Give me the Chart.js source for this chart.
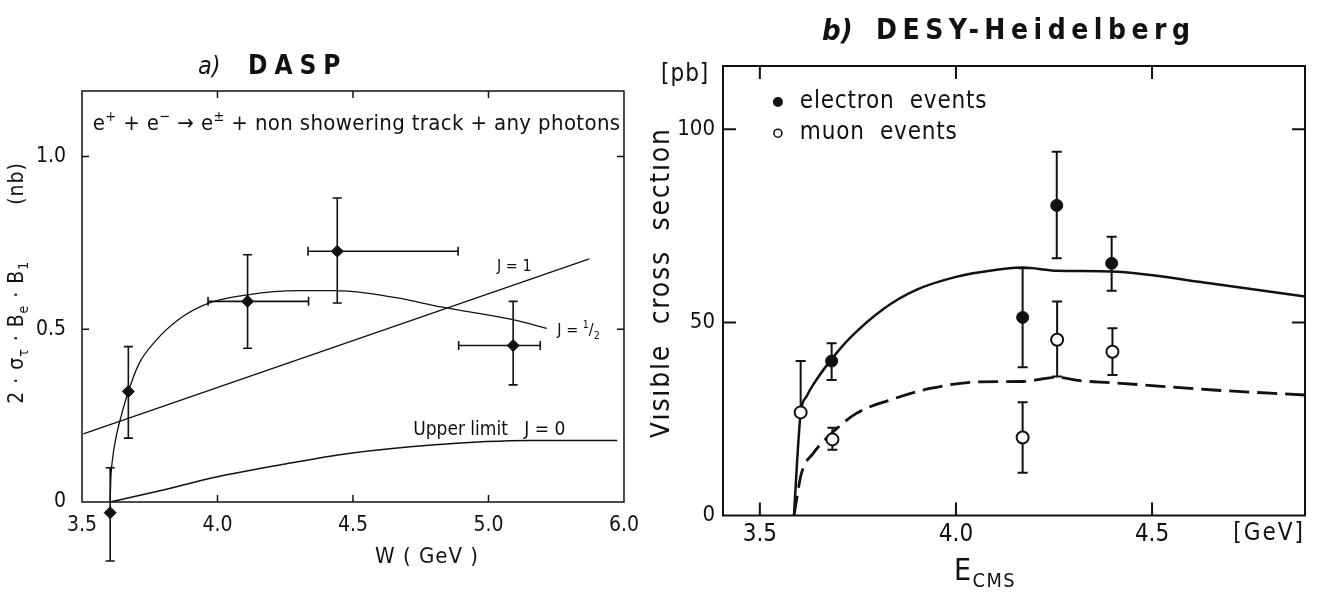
<!DOCTYPE html>
<html>
<head>
<meta charset="utf-8">
<title>DASP / DESY-Heidelberg</title>
<script src="https://cdn.jsdelivr.net/npm/chart.js@4.4.1/dist/chart.umd.min.js"></script>
<style>
  html, body { margin: 0; padding: 0; background: #fff; }
  #wrap { position: relative; width: 1317px; height: 600px; overflow: hidden; }
  #dasp { position: absolute; left: 0; top: 0; }
  #desy { position: absolute; left: 650px; top: 0; }
</style>
</head>
<body>
<div id="wrap">
  <canvas id="dasp" width="650" height="600"></canvas>
  <canvas id="desy" width="667" height="600"></canvas>
</div>
<script>
// ===== a) DASP =====
const daspW = [3.604, 3.671, 4.111, 4.442, 5.091];
const daspSigma = [-0.031, 0.320, 0.581, 0.726, 0.453];
const daspErrUp = [0.13, 0.13, 0.135, 0.154, 0.128];
const daspErrDown = [0.14, 0.135, 0.136, 0.15, 0.114];
const daspWErrLo = [0, 0, 0.146, 0.108, 0.201];
const daspWErrHi = [0, 0, 0.225, 0.446, 0.100];

// model curves
const jHalfW = [3.604, 3.606, 3.612, 3.625, 3.645, 3.671, 3.71, 3.77, 3.854, 3.965, 4.111, 4.30, 4.43, 4.55, 4.67, 4.83, 5.09, 5.215];
const jHalfY = [0, 0.06, 0.12, 0.185, 0.25, 0.32, 0.40, 0.465, 0.527, 0.575, 0.600, 0.612, 0.612, 0.605, 0.590, 0.564, 0.528, 0.503];
const jOneW = [3.505, 5.372];
const jOneY = [0.197, 0.704];
const jZeroW = [3.604, 3.8, 4.0, 4.25, 4.49, 4.79, 5.15, 5.475];
const jZeroY = [0, 0.035, 0.073, 0.11, 0.141, 0.165, 0.178, 0.178];

const daspXTickLabels = ['3.5', '4.0', '4.5', '5.0', '6.0'];
const daspYTickLabels = ['0', '0.5', '1.0'];

// ===== b) DESY-Heidelberg =====
const electronE = [3.683, 4.170, 4.257, 4.397];
const electronSigma = [40.0, 51.3, 80.3, 65.3];
const electronErrUp = [4.6, 12.7, 13.9, 6.9];
const electronErrDown = [4.9, 12.9, 13.7, 7.1];

const muonE = [3.604, 3.685, 4.170, 4.258, 4.399];
const muonSigma = [26.7, 19.7, 20.2, 45.5, 42.4];
const muonErrUp = [13.3, 3.0, 9.1, 9.9, 6.1];
const muonErrDown = [0, 2.7, 9.1, 9.5, 6.0];

const solidE = [3.587, 3.595, 3.604, 3.62, 3.64, 3.683, 3.73, 3.815, 3.90, 4.00, 4.061, 4.170, 4.257, 4.397, 4.656, 4.890];
const solidY = [0, 14, 26.5, 31, 34.5, 40.5, 46, 53.5, 58.5, 61.8, 63, 64.2, 63.4, 63.2, 60.0, 56.7];
const dashedE = [3.587, 3.606, 3.636, 3.683, 3.747, 3.832, 3.934, 4.061, 4.170, 4.258, 4.316, 4.397, 4.656, 4.890];
const dashedY = [0, 10.9, 16.1, 21.3, 26.5, 29.9, 32.9, 34.6, 34.7, 35.8, 34.9, 34.4, 32.5, 31.2];

const desyXTickLabels = ['3.5', '4.0', '4.5'];
const desyYTickLabels = ['0', '50', '100'];

const INK = '#111';
const FONT = "'Liberation Sans Narrow', 'DejaVu Sans Condensed', 'Liberation Sans', sans-serif";

Chart.defaults.color = INK;
Chart.defaults.font.family = FONT;

const pts = (xs, ys) => xs.map((x, i) => ({ x, y: ys[i] }));

function curve(xs, ys, width, dash) {
  return {
    data: pts(xs, ys),
    showLine: true,
    pointRadius: 0,
    borderColor: INK,
    borderWidth: width,
    borderDash: dash || [],
    cubicInterpolationMode: 'monotone',
    fill: false,
  };
}

// ----- drawing helpers -----
function drawRich(ctx, item, chart) {
  const size = item.size;
  let x = item.x, y = item.y;
  if (item.wx !== undefined) {
    x = chart.scales.x.getPixelForValue(item.wx);
    y = chart.scales.y.getPixelForValue(item.wy);
  }
  ctx.save();
  ctx.translate(x, y);
  if (item.rotate) ctx.rotate(item.rotate);
  ctx.fillStyle = INK;
  ctx.textBaseline = 'middle';
  ctx.letterSpacing = (item.spacing || 0) + 'px';
  const weight = item.weight || '';
  const segs = item.parts.map(p => {
    const seg = typeof p === 'string' ? { t: p } : p;
    const s = seg.mode ? size * 0.66 : size;
    ctx.font = `${seg.style || ''} ${weight} ${s}px ${FONT}`;
    return { ...seg, s, w: ctx.measureText(seg.t).width };
  });
  const total = segs.reduce((a, s) => a + s.w, 0);
  let cx = item.align === 'center' ? -total / 2 : item.align === 'right' ? -total : 0;
  for (const s of segs) {
    ctx.font = `${s.style || ''} ${weight} ${s.s}px ${FONT}`;
    const dy = s.mode === 'sub' ? size * 0.32 : s.mode === 'sup' ? -size * 0.32 : 0;
    ctx.fillText(s.t, cx, dy);
    cx += s.w;
  }
  ctx.restore();
}

function textLayer(items, marks) {
  return {
    id: 'paperText',
    afterDraw(chart) {
      const ctx = chart.ctx;
      for (const it of items) drawRich(ctx, it, chart);
      for (const m of marks || []) {
        const px = chart.scales.x.getPixelForValue(m.wx);
        const py = chart.scales.y.getPixelForValue(m.wy);
        ctx.save();
        ctx.beginPath();
        ctx.arc(px, py, m.r, 0, Math.PI * 2);
        ctx.fillStyle = m.open ? '#fff' : INK;
        ctx.fill();
        if (m.open) { ctx.lineWidth = 1.6; ctx.strokeStyle = INK; ctx.stroke(); }
        ctx.restore();
      }
    },
  };
}

// box round the plot, with ticks pointing inwards on all four sides
function frame(tickLen, width) {
  return {
    id: 'frame',
    afterDraw(chart) {
      const { ctx, chartArea: a, scales: { x, y } } = chart;
      ctx.save();
      ctx.strokeStyle = INK;
      ctx.lineWidth = width;
      ctx.strokeRect(a.left, a.top, a.right - a.left, a.bottom - a.top);
      ctx.beginPath();
      for (const t of x.ticks) {
        const px = x.getPixelForValue(t.value);
        if (px <= a.left + 2 || px >= a.right - 2) continue;
        ctx.moveTo(px, a.bottom); ctx.lineTo(px, a.bottom - tickLen);
        ctx.moveTo(px, a.top); ctx.lineTo(px, a.top + tickLen);
      }
      for (const t of y.ticks) {
        const py = y.getPixelForValue(t.value);
        if (py >= a.bottom - 2 || py <= a.top + 2) continue;
        ctx.moveTo(a.left, py); ctx.lineTo(a.left + tickLen, py);
        ctx.moveTo(a.right, py); ctx.lineTo(a.right - tickLen, py);
      }
      ctx.stroke();
      ctx.restore();
    },
  };
}

// error bars read from errUp / errDown / errLo / errHi on the dataset
const everywhere = { left: -1e4, top: -1e4, right: 1e4, bottom: 1e4 };
function errorBars(cap, width) {
  return {
    id: 'errorBars',
    beforeDatasetsDraw(chart) {
      const { ctx, scales: { x, y } } = chart;
      ctx.save();
      ctx.strokeStyle = INK;
      ctx.lineWidth = width;
      chart.data.datasets.forEach(ds => {
        if (!ds.errUp) return;
        ds.data.forEach((d, i) => {
          const px = x.getPixelForValue(d.x);
          const py = y.getPixelForValue(d.y);
          ctx.beginPath();
          const top = y.getPixelForValue(d.y + ds.errUp[i]);
          const bot = y.getPixelForValue(d.y - ds.errDown[i]);
          ctx.moveTo(px, top); ctx.lineTo(px, bot);
          if (ds.errUp[i] > 0) { ctx.moveTo(px - cap, top); ctx.lineTo(px + cap, top); }
          if (ds.errDown[i] > 0) { ctx.moveTo(px - cap, bot); ctx.lineTo(px + cap, bot); }
          if (ds.errLo && ds.errLo[i] > 0) {
            const l = x.getPixelForValue(d.x - ds.errLo[i]);
            const r = x.getPixelForValue(d.x + ds.errHi[i]);
            ctx.moveTo(l, py); ctx.lineTo(r, py);
            ctx.moveTo(l, py - cap); ctx.lineTo(l, py + cap);
            ctx.moveTo(r, py - cap); ctx.lineTo(r, py + cap);
          }
          ctx.stroke();
        });
      });
      ctx.restore();
    },
    // the library skips points outside the plot area; draw those too
    afterDatasetsDraw(chart) {
      const a = chart.chartArea;
      chart.data.datasets.forEach((ds, di) => {
        if (!ds.errUp) return;
        chart.getDatasetMeta(di).data.forEach(el => {
          if (el.y > a.bottom || el.y < a.top) el.draw(chart.ctx, everywhere);
        });
      });
    },
  };
}

function axis(min, max, step, labels, size, pad, fit) {
  return {
    type: 'linear',
    min, max,
    afterFit: fit,
    grid: { display: false, drawTicks: false },
    border: { display: false },
    ticks: {
      stepSize: step,
      includeBounds: false,
      autoSkip: false,
      maxRotation: 0,
      padding: pad,
      color: INK,
      font: { size, family: FONT },
      callback: (v, i) => labels[i],
    },
  };
}

// ----- a) DASP -----
new Chart(document.getElementById('dasp'), {
  type: 'scatter',
  data: {
    datasets: [
      {
        data: pts(daspW, daspSigma),
        errUp: daspErrUp, errDown: daspErrDown, errLo: daspWErrLo, errHi: daspWErrHi,
        pointStyle: 'rectRot',
        pointRadius: 6,
        backgroundColor: INK,
        borderColor: INK,
        clip: false,
      },
      curve(jHalfW, jHalfY, 1.3),
      curve(jOneW, jOneY, 1.3),
      curve(jZeroW, jZeroY, 1.6),
    ],
  },
  options: {
    responsive: false,
    animation: false,
    events: [],
    layout: { padding: { top: 91, right: 15, left: 0, bottom: 0 } },
    plugins: { legend: { display: false }, tooltip: { enabled: false } },
    scales: {
      x: axis(3.5, 5.5, 0.5, daspXTickLabels, 21, 11, s => { s.height = 98; }),
      y: axis(0, 1.19, 0.5, daspYTickLabels, 21, 16, s => { s.width = 82; }),
    },
  },
  plugins: [
    errorBars(4.5, 1.6),
    frame(7, 1.5),
    textLayer([
      { parts: [{ t: 'a)', style: 'italic' }], x: 198, y: 67, size: 25 },
      { parts: ['DASP'], x: 248, y: 67, size: 26, spacing: 7, weight: 'bold' },
      { parts: ['2 · σ', { t: 'τ', mode: 'sub' }, ' · B', { t: 'e', mode: 'sub' }, ' · B', { t: '1', mode: 'sub' }, '        (nb)'],
        x: 18, y: 283, size: 21, spacing: 1, align: 'center', rotate: -Math.PI / 2 },
      { parts: ['W ( GeV )'], x: 427, y: 557, size: 22, spacing: 1, align: 'center' },
      { parts: ['e', { t: '+', mode: 'sup' }, ' + e', { t: '−', mode: 'sup' }, ' → e', { t: '±', mode: 'sup' }, ' + non showering track + any photons'],
        wx: 3.54, wy: 1.093, size: 22, spacing: 0.35 },
      { parts: ['J = 1'], wx: 5.095, wy: 0.681, size: 16, align: 'center' },
      { parts: ['J = ', { t: '1', mode: 'sup' }, '/', { t: '2', mode: 'sub' }], wx: 5.254, wy: 0.496, size: 16 },
      { parts: ['Upper limit   J = 0'], wx: 4.722, wy: 0.209, size: 19 },
    ]),
  ],
});

// ----- b) DESY-Heidelberg -----
new Chart(document.getElementById('desy'), {
  type: 'scatter',
  data: {
    datasets: [
      {
        data: pts(muonE, muonSigma),
        errUp: muonErrUp, errDown: muonErrDown,
        pointStyle: 'circle',
        pointRadius: 6,
        backgroundColor: '#fff',
        borderColor: INK,
        borderWidth: 2,
      },
      {
        data: pts(electronE, electronSigma),
        errUp: electronErrUp, errDown: electronErrDown,
        pointStyle: 'circle',
        pointRadius: 6,
        backgroundColor: INK,
        borderColor: INK,
      },
      curve(solidE, solidY, 2.5),
      curve(dashedE, dashedY, 2.8, [20, 8]),
    ],
  },
  options: {
    responsive: false,
    animation: false,
    events: [],
    layout: { padding: { top: 66, right: 12, left: 0, bottom: 0 } },
    plugins: { legend: { display: false }, tooltip: { enabled: false } },
    scales: {
      x: axis(3.406, 4.89, 0.5, desyXTickLabels, 24, 5, s => { s.height = 84.5; }),
      y: axis(0, 116.4, 50, desyYTickLabels, 22, 8, s => { s.width = 73; }),
    },
  },
  plugins: [
    errorBars(5, 2),
    frame(13, 2),
    textLayer([
      { parts: [{ t: 'b)', style: 'italic' }], x: 172, y: 32, size: 29, weight: 'bold' },
      { parts: ['DESY-Heidelberg'], x: 226, y: 32, size: 28, spacing: 5.5, weight: 'bold' },
      { parts: ['[pb]'], x: 11, y: 75, size: 24, spacing: 1 },
      { parts: ['Visible  cross  section'], x: 12, y: 283, size: 28, spacing: 1.8, align: 'center', rotate: -Math.PI / 2 },
      { parts: ['[GeV]'], x: 655, y: 534, size: 24, spacing: 2, align: 'right' },
      { parts: ['E', { t: 'CMS', mode: 'sub' }], x: 335, y: 572, size: 30, spacing: 1.5, align: 'center' },
      { parts: ['electron  events'], wx: 3.602, wy: 107.1, size: 24, spacing: 0.8 },
      { parts: ['muon  events'], wx: 3.602, wy: 99.0, size: 24, spacing: 0.8 },
    ], [
      { wx: 3.546, wy: 107.1, r: 5 },
      { wx: 3.546, wy: 99.0, r: 4, open: true },
    ]),
  ],
});
</script>
</body>
</html>
